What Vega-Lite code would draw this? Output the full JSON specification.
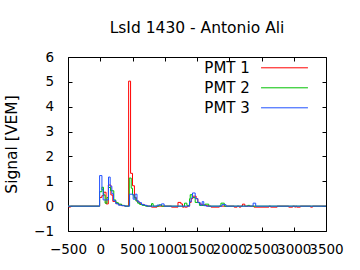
{
  "$schema": "https://vega.github.io/schema/vega-lite/v6.json",
  "width": 258,
  "height": 174,
  "autosize": {"type": "none"},
  "padding": {"left": 68, "top": 57, "right": 34, "bottom": 39},
  "background": "white",
  "title": {"text": "LsId 1430 - Antonio Ali", "fontSize": 15.5, "font": "DejaVu Sans", "fontWeight": "normal", "anchor": "middle", "baseline": "alphabetic", "offset": 24, "dy": 22, "color": "black"},
  "datasets": {
    "trace": [
      {"pmt": "PMT 1", "t": -500, "v": 0}, {"pmt": "PMT 1", "t": -490, "v": -0.04}, {"pmt": "PMT 1", "t": -460, "v": 0},
      {"pmt": "PMT 1", "t": -10, "v": 0.35}, {"pmt": "PMT 1", "t": 25, "v": 0.42}, {"pmt": "PMT 1", "t": 55, "v": 0.56},
      {"pmt": "PMT 1", "t": 90, "v": 0.09}, {"pmt": "PMT 1", "t": 125, "v": 0.85}, {"pmt": "PMT 1", "t": 165, "v": 0.45},
      {"pmt": "PMT 1", "t": 195, "v": 0.19}, {"pmt": "PMT 1", "t": 245, "v": 0.1}, {"pmt": "PMT 1", "t": 290, "v": 0.05},
      {"pmt": "PMT 1", "t": 340, "v": 0.02}, {"pmt": "PMT 1", "t": 380, "v": 0}, {"pmt": "PMT 1", "t": 440, "v": 5.03},
      {"pmt": "PMT 1", "t": 470, "v": 1.32}, {"pmt": "PMT 1", "t": 500, "v": 0.82}, {"pmt": "PMT 1", "t": 530, "v": 0.35},
      {"pmt": "PMT 1", "t": 560, "v": 0.2}, {"pmt": "PMT 1", "t": 600, "v": 0.12}, {"pmt": "PMT 1", "t": 630, "v": 0.07},
      {"pmt": "PMT 1", "t": 680, "v": 0.03}, {"pmt": "PMT 1", "t": 720, "v": 0}, {"pmt": "PMT 1", "t": 795, "v": -0.04},
      {"pmt": "PMT 1", "t": 880, "v": 0}, {"pmt": "PMT 1", "t": 1105, "v": -0.04}, {"pmt": "PMT 1", "t": 1205, "v": 0.15},
      {"pmt": "PMT 1", "t": 1250, "v": 0.09}, {"pmt": "PMT 1", "t": 1275, "v": -0.04}, {"pmt": "PMT 1", "t": 1300, "v": 0},
      {"pmt": "PMT 1", "t": 1310, "v": -0.04}, {"pmt": "PMT 1", "t": 1350, "v": 0}, {"pmt": "PMT 1", "t": 1385, "v": 0.15},
      {"pmt": "PMT 1", "t": 1410, "v": 0.3}, {"pmt": "PMT 1", "t": 1435, "v": 0.4}, {"pmt": "PMT 1", "t": 1487, "v": 0.3},
      {"pmt": "PMT 1", "t": 1513, "v": 0.15}, {"pmt": "PMT 1", "t": 1545, "v": 0.08}, {"pmt": "PMT 1", "t": 1580, "v": 0.05},
      {"pmt": "PMT 1", "t": 1625, "v": 0.03}, {"pmt": "PMT 1", "t": 1660, "v": 0}, {"pmt": "PMT 1", "t": 1718, "v": -0.04},
      {"pmt": "PMT 1", "t": 1846, "v": 0}, {"pmt": "PMT 1", "t": 2076, "v": -0.04}, {"pmt": "PMT 1", "t": 2122, "v": 0},
      {"pmt": "PMT 1", "t": 2153, "v": -0.04}, {"pmt": "PMT 1", "t": 2180, "v": 0}, {"pmt": "PMT 1", "t": 2205, "v": 0.08},
      {"pmt": "PMT 1", "t": 2241, "v": 0}, {"pmt": "PMT 1", "t": 2384, "v": -0.04}, {"pmt": "PMT 1", "t": 2615, "v": 0},
      {"pmt": "PMT 1", "t": 2641, "v": -0.04}, {"pmt": "PMT 1", "t": 2743, "v": 0}, {"pmt": "PMT 1", "t": 2922, "v": -0.04},
      {"pmt": "PMT 1", "t": 2984, "v": 0}, {"pmt": "PMT 1", "t": 3015, "v": -0.04}, {"pmt": "PMT 1", "t": 3030, "v": 0},
      {"pmt": "PMT 1", "t": 3045, "v": -0.04}, {"pmt": "PMT 1", "t": 3102, "v": 0}, {"pmt": "PMT 1", "t": 3261, "v": -0.04},
      {"pmt": "PMT 1", "t": 3292, "v": 0}, {"pmt": "PMT 1", "t": 3500, "v": 0},

      {"pmt": "PMT 2", "t": -500, "v": 0}, {"pmt": "PMT 2", "t": -10, "v": 0.58}, {"pmt": "PMT 2", "t": 26, "v": 0.76},
      {"pmt": "PMT 2", "t": 50, "v": 0.45}, {"pmt": "PMT 2", "t": 75, "v": 0.12}, {"pmt": "PMT 2", "t": 105, "v": 0.35},
      {"pmt": "PMT 2", "t": 128, "v": 0.75}, {"pmt": "PMT 2", "t": 160, "v": 0.62}, {"pmt": "PMT 2", "t": 210, "v": 0.25},
      {"pmt": "PMT 2", "t": 240, "v": 0.14}, {"pmt": "PMT 2", "t": 280, "v": 0.08}, {"pmt": "PMT 2", "t": 330, "v": 0.03},
      {"pmt": "PMT 2", "t": 380, "v": 0}, {"pmt": "PMT 2", "t": 450, "v": 1.13}, {"pmt": "PMT 2", "t": 480, "v": 0.72},
      {"pmt": "PMT 2", "t": 500, "v": 0.45}, {"pmt": "PMT 2", "t": 525, "v": 0.33}, {"pmt": "PMT 2", "t": 550, "v": 0.22},
      {"pmt": "PMT 2", "t": 580, "v": 0.12}, {"pmt": "PMT 2", "t": 610, "v": 0.07}, {"pmt": "PMT 2", "t": 650, "v": 0.03},
      {"pmt": "PMT 2", "t": 700, "v": 0}, {"pmt": "PMT 2", "t": 795, "v": 0.1}, {"pmt": "PMT 2", "t": 820, "v": 0},
      {"pmt": "PMT 2", "t": 908, "v": 0.05}, {"pmt": "PMT 2", "t": 950, "v": 0}, {"pmt": "PMT 2", "t": 1307, "v": 0.12},
      {"pmt": "PMT 2", "t": 1343, "v": 0.03}, {"pmt": "PMT 2", "t": 1385, "v": 0.3}, {"pmt": "PMT 2", "t": 1395, "v": 0.46},
      {"pmt": "PMT 2", "t": 1425, "v": 0.35}, {"pmt": "PMT 2", "t": 1472, "v": 0.15}, {"pmt": "PMT 2", "t": 1538, "v": 0.03},
      {"pmt": "PMT 2", "t": 1625, "v": 0.08}, {"pmt": "PMT 2", "t": 1682, "v": 0}, {"pmt": "PMT 2", "t": 1871, "v": 0.12},
      {"pmt": "PMT 2", "t": 1923, "v": 0}, {"pmt": "PMT 2", "t": 2287, "v": 0.03}, {"pmt": "PMT 2", "t": 2318, "v": 0},
      {"pmt": "PMT 2", "t": 3500, "v": 0},

      {"pmt": "PMT 3", "t": -500, "v": 0}, {"pmt": "PMT 3", "t": -10, "v": 1.23}, {"pmt": "PMT 3", "t": 26, "v": 0.66},
      {"pmt": "PMT 3", "t": 45, "v": 0.25}, {"pmt": "PMT 3", "t": 128, "v": 1.17}, {"pmt": "PMT 3", "t": 154, "v": 0.8},
      {"pmt": "PMT 3", "t": 180, "v": 0.5}, {"pmt": "PMT 3", "t": 205, "v": 0.22}, {"pmt": "PMT 3", "t": 240, "v": 0.1},
      {"pmt": "PMT 3", "t": 280, "v": 0.04}, {"pmt": "PMT 3", "t": 330, "v": 0.02}, {"pmt": "PMT 3", "t": 380, "v": 0},
      {"pmt": "PMT 3", "t": 455, "v": 0.48}, {"pmt": "PMT 3", "t": 510, "v": 0.28}, {"pmt": "PMT 3", "t": 540, "v": 0.48},
      {"pmt": "PMT 3", "t": 570, "v": 0.2}, {"pmt": "PMT 3", "t": 600, "v": 0.14}, {"pmt": "PMT 3", "t": 640, "v": 0.06},
      {"pmt": "PMT 3", "t": 690, "v": 0.03}, {"pmt": "PMT 3", "t": 730, "v": 0}, {"pmt": "PMT 3", "t": 880, "v": 0.04},
      {"pmt": "PMT 3", "t": 950, "v": 0.09}, {"pmt": "PMT 3", "t": 990, "v": 0}, {"pmt": "PMT 3", "t": 1385, "v": 0.18},
      {"pmt": "PMT 3", "t": 1410, "v": 0.33}, {"pmt": "PMT 3", "t": 1430, "v": 0.53}, {"pmt": "PMT 3", "t": 1472, "v": 0.3},
      {"pmt": "PMT 3", "t": 1513, "v": 0.14}, {"pmt": "PMT 3", "t": 1549, "v": 0.04}, {"pmt": "PMT 3", "t": 1580, "v": 0.18},
      {"pmt": "PMT 3", "t": 1605, "v": 0.02}, {"pmt": "PMT 3", "t": 1640, "v": 0}, {"pmt": "PMT 3", "t": 1887, "v": 0.06},
      {"pmt": "PMT 3", "t": 1950, "v": 0}, {"pmt": "PMT 3", "t": 2370, "v": 0.12}, {"pmt": "PMT 3", "t": 2410, "v": 0},
      {"pmt": "PMT 3", "t": 3500, "v": 0}
    ]
  },
  "data": {"name": "trace"},
  "resolve": {"axis": {"x": "independent", "y": "independent"}},
  "layer": [
    {
      "transform": [{"filter": "datum.pmt === 'PMT 1'"}],
      "mark": {"type": "line", "interpolate": "step-after", "strokeWidth": 1},
      "encoding": {
        "x": {"field": "t", "type": "quantitative", "scale": {"domain": [-500, 3500], "nice": false, "zero": false},
              "axis": {"orient": "bottom", "title": null, "format": "d", "values": [-500, 0, 500, 1000, 1500, 2000, 2500, 3000, 3500], "labelOverlap": false, "labelFlush": false, "labelPadding": 15}},
        "y": {"field": "v", "type": "quantitative", "scale": {"domain": [-1, 6], "nice": false, "zero": false},
              "axis": {"orient": "left", "title": "Signal [VEM]", "format": "d", "values": [-1, 0, 1, 2, 3, 4, 5, 6], "labelPadding": 18.5, "labelBaseline": "middle",
                       "titleFontSize": 15.5, "titleFontWeight": "normal", "titleAngle": -90, "titleX": -51.5, "titleY": 87, "titleAlign": "center", "titleBaseline": "alphabetic"}},
        "color": {"field": "pmt", "type": "nominal", "scale": {"domain": ["PMT 1", "PMT 2", "PMT 3"], "range": ["#ff0000", "#00c000", "#2050ff"]}, "legend": {"title": null}}
      }
    },
    {
      "transform": [{"filter": "datum.pmt === 'PMT 2'"}],
      "mark": {"type": "line", "interpolate": "step-after", "strokeWidth": 1},
      "encoding": {
        "x": {"field": "t", "type": "quantitative", "axis": null},
        "y": {"field": "v", "type": "quantitative", "axis": null},
        "color": {"field": "pmt", "type": "nominal", "legend": {"title": null}}
      }
    },
    {
      "transform": [{"filter": "datum.pmt === 'PMT 3'"}],
      "mark": {"type": "line", "interpolate": "step-after", "strokeWidth": 1},
      "encoding": {
        "x": {"field": "t", "type": "quantitative", "axis": {"orient": "top", "title": null, "labels": false, "values": [-500, 0, 500, 1000, 1500, 2000, 2500, 3000, 3500]}},
        "y": {"field": "v", "type": "quantitative", "axis": {"orient": "right", "title": null, "labels": false, "values": [-1, 0, 1, 2, 3, 4, 5, 6]}},
        "color": {"field": "pmt", "type": "nominal", "legend": {"title": null}}
      }
    }
  ],
  "config": {
    "view": {"stroke": "black", "strokeWidth": 1},
    "axis": {"grid": false, "domain": false, "tickColor": "black", "tickSize": -4, "labelColor": "black", "labelFont": "DejaVu Sans", "labelFontSize": 13.5, "titleFont": "DejaVu Sans", "titleColor": "black"},
    "legend": {"orient": "none", "legendX": 209, "legendY": 3.3, "padding": 0, "symbolType": "M-5,0H5", "symbolSize": 88, "symbolStrokeWidth": 1, "symbolFillColor": "transparent", "labelAlign": "right", "labelOffset": -42.2, "labelFontSize": 15, "labelFont": "DejaVu Sans", "labelColor": "black", "rowPadding": 4}
  }
}
